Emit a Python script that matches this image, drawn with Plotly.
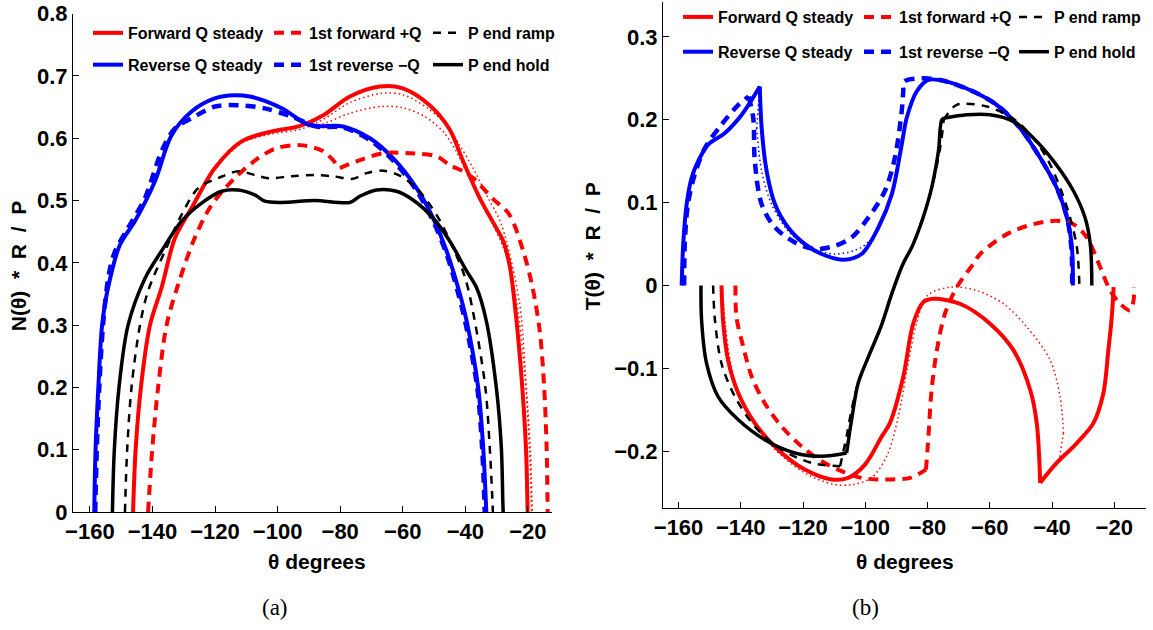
import plotly.graph_objects as go

W, H = 1153, 630

# ---------------- Panel (a): N(theta)*R/P ----------------
a_fwd_steady_theta = [-146.2, -145.4, -143.7, -140.8, -137.1, -132.8, -127.5, -120.1, -111.5, -101.9, -93.4,
                      -85.4, -76.9, -67.3, -60.0, -51.4, -45.0, -40.7, -35.4, -30.0, -27.9, -25.8, -23.5,
                      -21.8, -20.6, -20.1]
a_fwd_steady_N = [0, 0.099, 0.2, 0.3, 0.36, 0.44, 0.488, 0.552, 0.595, 0.611, 0.619,
                  0.637, 0.667, 0.683, 0.68, 0.653, 0.614, 0.563, 0.504, 0.455, 0.435, 0.395, 0.3,
                  0.2, 0.1, 0]

a_rev_steady_theta = [-158.6, -158.2, -157.3, -156.1, -154.2, -150.4, -145.6, -139.2, -133.9, -127.5, -120.1,
                      -113.7, -108.9, -104.1, -98.2, -89.7, -79.1, -70.5, -63.1, -55.6, -50.3,
                      -46.0, -42.3, -39.6, -35.9, -34.3, -33.3]
a_rev_steady_N = [0, 0.099, 0.2, 0.3, 0.36, 0.429, 0.467, 0.531, 0.605, 0.643, 0.664,
                  0.669, 0.667, 0.66, 0.647, 0.621, 0.619, 0.6, 0.568, 0.52, 0.472,
                  0.419, 0.36, 0.307, 0.2, 0.104, 0]

a_fwd_first_theta = [-141.4, -140.1, -138.2, -135.5, -131.8, -126.5, -121.1, -113.7, -106.2, -100.4, -92.9,
                     -85.4, -80.1, -74.8, -66.3, -57.8, -49.2, -45.0, -40.7, -37.5, -31.0, -26.0,
                     -21.5, -18.5, -16.2, -14.8, -14.0, -13.7]
a_fwd_first_N = [0, 0.099, 0.2, 0.3, 0.365, 0.44, 0.493, 0.536, 0.568, 0.584, 0.589,
                 0.579, 0.552, 0.563, 0.576, 0.576, 0.571, 0.557, 0.547, 0.536, 0.502, 0.478,
                 0.419, 0.36, 0.29, 0.2, 0.1, 0]

a_rev_first_theta = [-158.3, -157.8, -157.0, -155.8, -154.0, -152.0, -147.8, -142.4, -137.1, -132.8, -127.5,
                     -120.0, -112.6, -104.1, -95.6, -87.6, -79.0, -70.5, -63.0, -55.6, -50.3, -46.0,
                     -42.5, -39.8, -36.2, -34.6, -33.8]
a_rev_first_N = [0, 0.1, 0.2, 0.3, 0.38, 0.418, 0.456, 0.504, 0.579, 0.616, 0.632,
                 0.651, 0.653, 0.648, 0.635, 0.619, 0.617, 0.597, 0.564, 0.516, 0.467, 0.414,
                 0.355, 0.3, 0.2, 0.1, 0]

a_ramp_theta = [-148.8, -148.1, -146.7, -144.0, -141.4, -136.0, -130.7, -125.4, -119.0, -112.6, -107.3,
                -103.0, -95.6, -88.1, -82.3, -75.9, -71.6, -66.3, -61.0, -55.6, -49.2, -43.9,
                -40.0, -37.0, -33.6, -32.2, -31.3, -31.2]
a_ramp_N = [0, 0.099, 0.2, 0.3, 0.355, 0.419, 0.477, 0.52, 0.536, 0.547, 0.541,
            0.536, 0.539, 0.541, 0.539, 0.535, 0.544, 0.548, 0.54, 0.52, 0.477, 0.424,
            0.375, 0.307, 0.2, 0.104, 0.013, 0]

a_hold_theta = [-152.8, -152.2, -150.7, -147.8, -142.4, -137.1, -130.7, -124.3, -117.9, -112.6, -107.3,
                -104.1, -98.8, -88.1, -76.9, -73.7, -68.4, -62.0, -56.7, -50.3, -45.0, -39.6,
                -36.4, -33.3, -30.1, -28.5, -28.0, -27.9]
a_hold_N = [0, 0.099, 0.2, 0.3, 0.375, 0.419, 0.467, 0.496, 0.515, 0.517, 0.509,
            0.499, 0.497, 0.5, 0.497, 0.507, 0.517, 0.515, 0.501, 0.472, 0.435, 0.387,
            0.36, 0.307, 0.2, 0.104, 0.013, 0]

# transient (dotted) traces, panel (a)
a_trans1_theta = [-146.0, -145.2, -143.5, -140.6, -137.0, -132.6, -127.3, -120.0, -111.5, -102.0, -93.0,
                  -85.5, -77.0, -67.0, -60.0, -52.0, -46.0, -41.8, -37.5, -33.2, -28.9, -26.3,
                  -22.5, -20.5, -19.2, -18.6]
a_trans1_N = [0, 0.1, 0.2, 0.3, 0.36, 0.44, 0.487, 0.55, 0.592, 0.607, 0.614,
              0.63, 0.657, 0.672, 0.67, 0.648, 0.621, 0.589, 0.552, 0.509, 0.467, 0.424,
              0.33, 0.2, 0.1, 0]
a_trans2_theta = [-90.0, -85.0, -77.0, -67.0, -60.0, -53.0, -47.0, -43.0, -39.0, -35.0, -31.0,
                  -27.5, -24.0, -21.0, -19.5, -18.8]
a_trans2_N = [0.619, 0.624, 0.64, 0.651, 0.649, 0.635, 0.61, 0.58, 0.54, 0.5, 0.46,
              0.42, 0.35, 0.22, 0.1, 0]

# ---------------- Panel (b): T(theta)*R/P ----------------
b_fwd_steady_theta = [-146.2, -145.7, -144.1, -140.8, -135.5, -128.0, -119.4, -110.8, -105.5, -100.1, -94.7,
                      -92.1, -87.8, -84.6, -81.3, -78.1, -69.6, -59.9, -52.4, -47.0, -44.9, -43.8,
                      -38.5, -32.0, -26.7, -23.5, -21.9, -20.8, -20.2]
b_fwd_steady_T = [0, -0.042, -0.09, -0.13, -0.166, -0.198, -0.222, -0.234, -0.232, -0.216, -0.182,
                  -0.166, -0.11, -0.046, -0.02, -0.016, -0.022, -0.046, -0.078, -0.126, -0.166, -0.238,
                  -0.214, -0.19, -0.166, -0.13, -0.078, -0.038, -0.002]

b_rev_steady_theta = [-159.0, -158.5, -157.4, -155.8, -153.7, -150.5, -145.1, -139.7, -133.9, -133.3, -131.7,
                      -129.0, -124.8, -119.4, -114.0, -107.1, -101.2, -95.8, -91.5, -88.3, -86.7, -83.5,
                      -79.7, -73.8, -65.3, -57.8, -50.3, -43.8, -38.5, -35.2, -33.6, -33.3]
b_rev_steady_T = [0, 0.05, 0.098, 0.13, 0.15, 0.17, 0.184, 0.206, 0.24, 0.19, 0.138,
                  0.098, 0.07, 0.05, 0.038, 0.031, 0.038, 0.07, 0.11, 0.17, 0.202, 0.234,
                  0.248, 0.246, 0.234, 0.218, 0.19, 0.154, 0.118, 0.082, 0.046, 0]

b_fwd_first_theta = [-141.7, -141.4, -139.2, -136.5, -132.3, -126.9, -120.5, -114.0, -107.6, -101.2, -96.3,
                     -92.6, -85.6, -80.5, -79.7, -78.7, -77.0, -74.4, -70.6, -65.3, -63.1, -54.5,
                     -46.0, -38.5, -33.1, -28.8, -24.5, -21.3, -18.1, -14.9, -13.8, -13.6]
b_fwd_first_T = [0, -0.038, -0.074, -0.11, -0.142, -0.17, -0.194, -0.212, -0.224, -0.232, -0.234,
                 -0.234, -0.232, -0.222, -0.182, -0.126, -0.078, -0.034, -0.002, 0.026, 0.038, 0.062,
                 0.074, 0.078, 0.074, 0.058, 0.022, -0.006, -0.022, -0.03, -0.018, -0.002]

b_rev_first_theta = [-158.2, -158.0, -157.0, -154.8, -151.5, -146.2, -140.8, -137.5, -136.0, -135.5, -133.3,
                     -129.0, -122.6, -116.2, -109.7, -104.4, -99.0, -93.7, -90.5, -88.3, -87.8, -87.5,
                     -81.3, -73.8, -65.3, -57.8, -50.3, -43.8, -38.5, -35.2, -33.8, -33.5]
b_rev_first_T = [0, 0.05, 0.098, 0.134, 0.166, 0.194, 0.218, 0.228, 0.202, 0.15, 0.098,
                 0.07, 0.052, 0.044, 0.048, 0.058, 0.082, 0.114, 0.154, 0.21, 0.234, 0.246,
                 0.25, 0.246, 0.234, 0.218, 0.19, 0.154, 0.118, 0.082, 0.046, 0]

b_ramp_theta = [-148.9, -148.3, -146.2, -141.9, -135.5, -126.9, -117.2, -108.1, -106.0, -104.4, -102.3,
                -99.0, -95.0, -91.5, -88.0, -84.6, -79.2, -76.0, -74.8, -73.3, -70.6, -61.0,
                -52.0, -46.5, -41.7, -37.4, -34.2, -32.0, -31.2]
b_ramp_T = [0, -0.042, -0.094, -0.134, -0.17, -0.198, -0.214, -0.218, -0.182, -0.15, -0.118,
            -0.086, -0.05, -0.01, 0.025, 0.05, 0.11, 0.165, 0.2, 0.208, 0.218, 0.216,
            0.2, 0.18, 0.154, 0.118, 0.082, 0.046, 0]

b_hold_theta = [-152.8, -152.6, -151.0, -147.3, -140.8, -132.3, -122.6, -114.0, -106.0, -104.4, -102.3,
                -99.0, -95.0, -91.5, -88.0, -84.6, -79.2, -76.5, -75.4, -74.4, -67.4, -59.9,
                -52.4, -46.0, -39.5, -33.1, -29.4, -27.7, -27.2]
b_hold_T = [0, -0.042, -0.094, -0.134, -0.162, -0.186, -0.202, -0.206, -0.202, -0.162, -0.118,
            -0.086, -0.05, -0.01, 0.025, 0.05, 0.11, 0.162, 0.2, 0.202, 0.206, 0.206,
            0.198, 0.178, 0.15, 0.114, 0.082, 0.05, 0]

# transient (dotted) traces, panel (b)
b_trans_red_theta = [-146.0, -145.0, -143.2, -139.8, -134.3, -127.0, -118.5, -110.0, -104.0, -98.0, -93.0,
                     -89.5, -86.5, -83.5, -80.0, -72.7, -64.2, -55.6, -48.1, -40.6, -37.4, -36.3,
                     -37.8, -32.0, -26.4, -23.2, -21.6, -20.5, -20.0]
b_trans_red_T = [0, -0.045, -0.095, -0.138, -0.174, -0.205, -0.228, -0.24, -0.24, -0.232, -0.205,
                 -0.16, -0.1, -0.045, -0.012, -0.002, -0.006, -0.022, -0.05, -0.09, -0.134, -0.178,
                 -0.212, -0.188, -0.162, -0.126, -0.075, -0.035, -0.003]
b_trans_blue_theta = [-133.9, -134.9, -133.3, -130.1, -124.8, -118.3, -109.7, -101.2, -96.0]
b_trans_blue_T = [0.24, 0.19, 0.138, 0.098, 0.066, 0.046, 0.038, 0.046, 0.065]

x_ticks = [-160, -140, -120, -100, -80, -60, -40, -20]
a_y_ticks = [0, 0.1, 0.2, 0.3, 0.4, 0.5, 0.6, 0.7, 0.8]
b_y_ticks = [-0.2, -0.1, 0, 0.1, 0.2, 0.3]

names = ["Forward Q steady", "Reverse Q steady", "1st forward +Q", "1st reverse \u2212Q",
         "P end ramp", "P end hold"]

RED, BLUE, BLACK = "#ff0000", "#0000ff", "#000000"
styles = [
    dict(color=RED, width=4, dash="solid"),
    dict(color=BLUE, width=4, dash="solid"),
    dict(color=RED, width=4, dash="10px,7px"),
    dict(color=BLUE, width=4.5, dash="10px,7px"),
    dict(color=BLACK, width=2.5, dash="8px,7px"),
    dict(color=BLACK, width=3.5, dash="solid"),
]

fig = go.Figure()


def segments(n, corners):
    cuts = [0] + list(corners) + [n - 1]
    return [(cuts[k], cuts[k + 1]) for k in range(len(cuts) - 1)]


def add_curve(theta, vals, xa, ya, line, corners=(), name=None, legend=None, group=None):
    for k, (i0, i1) in enumerate(segments(len(theta), corners)):
        show = name is not None and k == 0
        fig.add_trace(go.Scatter(
            x=theta[i0:i1 + 1], y=vals[i0:i1 + 1], xaxis=xa, yaxis=ya, mode="lines",
            line=dict(shape="spline", smoothing=0.9, **line),
            name=name, legend=legend if legend else "legend", legendgroup=group,
            showlegend=show, hoverinfo="skip"))


dot_red = dict(color=RED, width=1.5, dash="1.5px,3px")
dot_blue = dict(color=BLUE, width=1.5, dash="1.5px,3px")
add_curve(a_trans1_theta, a_trans1_N, "x", "y", dot_red)
add_curve(a_trans2_theta, a_trans2_N, "x", "y", dot_red)
add_curve(b_trans_red_theta, b_trans_red_T, "x2", "y2", dot_red, corners=(21, 22))
add_curve(b_trans_blue_theta, b_trans_blue_T, "x2", "y2", dot_blue, corners=(1,))

a_series = [(a_fwd_steady_theta, a_fwd_steady_N, ()), (a_rev_steady_theta, a_rev_steady_N, ()),
            (a_fwd_first_theta, a_fwd_first_N, (12,)), (a_rev_first_theta, a_rev_first_N, ()),
            (a_ramp_theta, a_ramp_N, ()), (a_hold_theta, a_hold_N, ())]
b_series = [(b_fwd_steady_theta, b_fwd_steady_T, (21,)), (b_rev_steady_theta, b_rev_steady_T, (8,)),
            (b_fwd_first_theta, b_fwd_first_T, (13,)), (b_rev_first_theta, b_rev_first_T, (7,)),
            (b_ramp_theta, b_ramp_T, (7, 18)), (b_hold_theta, b_hold_T, (8, 19))]

a_legends = ["legend", "legend", "legend2", "legend2", "legend3", "legend3"]
b_legends = ["legend4", "legend4", "legend5", "legend5", "legend6", "legend6"]

for i, (t, v, c) in enumerate(a_series):
    add_curve(t, v, "x", "y", styles[i], corners=c, name=names[i], legend=a_legends[i],
              group="a%d" % i)
for i, (t, v, c) in enumerate(b_series):
    add_curve(t, v, "x2", "y2", styles[i], corners=c, name=names[i], legend=b_legends[i],
              group="b%d" % i)

FONT = "Liberation Sans, Arial, Helvetica, sans-serif"
tickfont = dict(family=FONT, size=22, color="black", weight="bold")

axis_common = dict(showline=True, linecolor="black", linewidth=1, ticks="inside", ticklen=6,
                   tickcolor="black", showgrid=False, zeroline=False, tickfont=tickfont,
                   automargin=False, mirror=False)

fig.update_layout(
    width=W, height=H, margin=dict(l=0, r=0, t=0, b=0),
    paper_bgcolor="white", plot_bgcolor="white",
    font=dict(family=FONT, size=16, color="black", weight="bold"),
    xaxis=dict(domain=[73 / W, 552 / W], range=[-165.4, -12.3], tickvals=x_ticks,
               anchor="y", **axis_common),
    yaxis=dict(domain=[1 - 511.7 / H, 1 - 11.7 / H], range=[0, 0.8], tickvals=a_y_ticks,
               anchor="x", **axis_common),
    xaxis2=dict(domain=[663 / W, 1146 / W], range=[-165.0, -9.8], tickvals=x_ticks,
                anchor="y2", **axis_common),
    yaxis2=dict(domain=[1 - 507.3 / H, 1.0], range=[-0.268, 0.342], tickvals=b_y_ticks,
                anchor="x2", **axis_common),
)

leg_common = dict(bgcolor="rgba(0,0,0,0)", borderwidth=0, xanchor="left", yanchor="top",
                  orientation="v", font=dict(family=FONT, size=16, color="black", weight="bold"),
                  itemclick=False, itemdoubleclick=False)
fig.update_layout(
    legend=dict(x=88 / W, y=1 - 14 / H, tracegroupgap=8, **leg_common),
    legend2=dict(x=269 / W, y=1 - 14 / H, tracegroupgap=8, **leg_common),
    legend3=dict(x=428 / W, y=1 - 14 / H, tracegroupgap=8, **leg_common),
    legend4=dict(x=678 / W, y=1 + 2 / H, tracegroupgap=11, **leg_common),
    legend5=dict(x=859 / W, y=1 + 2 / H, tracegroupgap=11, **leg_common),
    legend6=dict(x=1014 / W, y=1 + 2 / H, tracegroupgap=11, **leg_common),
)

NB = "\u00a0"
sp = NB * 2
ann_font = dict(family=FONT, size=21, color="black", weight="bold")
fig.add_annotation(text="\u03b8 degrees", x=317 / W, y=1 - 561 / H, xref="paper", yref="paper",
                   showarrow=False, font=ann_font, xanchor="center", yanchor="middle")
fig.add_annotation(text="\u03b8 degrees", x=905 / W, y=1 - 561 / H, xref="paper", yref="paper",
                   showarrow=False, font=ann_font, xanchor="center", yanchor="middle")
ytitle_font = dict(family=FONT, size=21, color="black", weight="bold")
fig.add_annotation(text="N(\u03b8)" + sp + "*" + sp + "R" + sp + "/" + sp + "P", x=18 / W, y=1 - 265 / H,
                   xref="paper", yref="paper", showarrow=False, font=ytitle_font,
                   textangle=-90, xanchor="center", yanchor="middle")
fig.add_annotation(text="T(\u03b8)" + sp + "*" + sp + "R" + sp + "/" + sp + "P", x=592 / W, y=1 - 245 / H,
                   xref="paper", yref="paper", showarrow=False, font=ytitle_font,
                   textangle=-90, xanchor="center", yanchor="middle")
cap_font = dict(family="Liberation Serif, Times New Roman, serif", size=23, color="black",
                weight="normal")
fig.add_annotation(text="(a)", x=275 / W, y=1 - 607 / H, xref="paper", yref="paper",
                   showarrow=False, font=cap_font, xanchor="center", yanchor="middle")
fig.add_annotation(text="(b)", x=865 / W, y=1 - 607 / H, xref="paper", yref="paper",
                   showarrow=False, font=cap_font, xanchor="center", yanchor="middle")

fig.write_html("out.html")
